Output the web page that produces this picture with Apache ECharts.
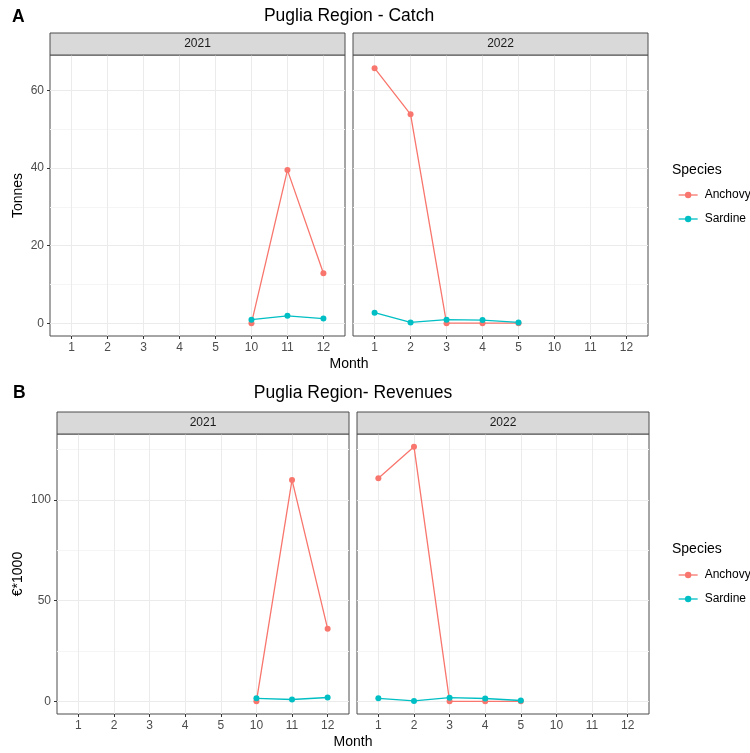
<!DOCTYPE html>
<html>
<head>
<meta charset="utf-8">
<script src="https://cdn.jsdelivr.net/npm/echarts@6/dist/echarts.min.js"></script>
<style>
  html, body { margin: 0; padding: 0; background: #fff; }
  #chart { width: 750px; height: 753px; }
</style>
</head>
<body>
<div id="chart"></div>
<script>
// month categories shared by every facet
var months = ['1', '2', '3', '4', '5', '10', '11', '12'];
var years = ['2021', '2022'];
var speciesNames = ['Anchovy', 'Sardine'];

// A - catch (tonnes)
var catchMonths2021 = ['10', '11', '12'];
var catchAnchovy2021 = [0, 39.5, 12.9];
var catchSardine2021 = [0.9, 1.9, 1.2];
var catchMonths2022 = ['1', '2', '3', '4', '5'];
var catchAnchovy2022 = [65.8, 53.9, 0, 0, 0];
var catchSardine2022 = [2.7, 0.2, 0.9, 0.8, 0.2];
var catchTicks = [0, 20, 40, 60];
var catchMinorTicks = [10, 30, 50];

// B - revenues (euro * 1000)
var revMonths2021 = ['10', '11', '12'];
var revAnchovy2021 = [0, 110, 36];
var revSardine2021 = [1.5, 0.9, 1.9];
var revMonths2022 = ['1', '2', '3', '4', '5'];
var revAnchovy2022 = [110.8, 126.5, 0, 0, 0];
var revSardine2022 = [1.5, 0.2, 1.8, 1.4, 0.4];
var revTicks = [0, 50, 100];
var revMinorTicks = [25, 75, 125];

var colors = { Anchovy: '#F8766D', Sardine: '#00BFC4' };
var font = 'Liberation Sans, Arial, sans-serif';
var monthIdx = months.map(function (m, i) { return i; });

// panel boxes: [left, top, width, height]
var panels = [
    { box: [50, 55, 295, 281], y: [-3.3, 69.2], ticks: catchTicks, minor: catchMinorTicks, name: 'Tonnes', gap: 25, year: 0 },
    { box: [353, 55, 295, 281], y: [-3.3, 69.2], ticks: catchTicks, minor: catchMinorTicks, year: 1 },
    { box: [57, 434, 292, 280], y: [-6.3, 132.8], ticks: revTicks, minor: revMinorTicks, name: '€*1000', gap: 32, year: 0 },
    { box: [357, 434, 292, 280], y: [-6.3, 132.8], ticks: revTicks, minor: revMinorTicks, year: 1 }
];

function toPairs(ms, vals) {
    return ms.map(function (m, i) { return [months.indexOf(m), vals[i]]; });
}

var grids = [], xAxes = [], yAxes = [], graphics = [];

panels.forEach(function (p, g) {
    grids.push({
        left: p.box[0], top: p.box[1], width: p.box[2], height: p.box[3],
        show: true, backgroundColor: '#fff', borderColor: '#4d4d4d', borderWidth: 1
    });
    xAxes.push({
        gridIndex: g, type: 'value', min: -0.6, max: 7.6,
        axisLine: { show: false, onZero: false },
        axisTick: { show: true, length: 3, customValues: monthIdx, lineStyle: { color: '#333' } },
        axisLabel: {
            customValues: monthIdx, margin: 6, color: '#4D4D4D', fontSize: 12, fontFamily: font,
            formatter: function (v) { return months[Math.round(v)]; }
        },
        splitLine: { show: true, lineStyle: { color: '#EBEBEB', width: 1 } }
    });
    // major lines, ticks and labels
    yAxes.push({
        gridIndex: g, type: 'value', min: p.y[0], max: p.y[1],
        axisLine: { show: false, onZero: false },
        axisTick: { show: g % 2 === 0, length: 3, customValues: p.ticks, lineStyle: { color: '#333' } },
        axisLabel: { show: g % 2 === 0, customValues: p.ticks, margin: 6, color: '#4D4D4D', fontSize: 12, fontFamily: font },
        splitLine: { show: true, lineStyle: { color: '#EBEBEB', width: 1 } },
        name: p.name || '', nameLocation: 'middle', nameRotate: 90, nameGap: p.gap || 0,
        nameTextStyle: { color: '#000', fontSize: 14, fontFamily: font }
    });
    // minor lines
    yAxes.push({
        gridIndex: g, type: 'value', min: p.y[0], max: p.y[1],
        axisLine: { show: false, onZero: false },
        axisTick: { show: false, customValues: p.minor },
        axisLabel: { show: false },
        splitLine: { show: true, lineStyle: { color: '#F5F5F5', width: 1 } }
    });
    // strip on top of the panel
    graphics.push({
        type: 'rect', z: 10,
        shape: { x: p.box[0], y: p.box[1] - 22, width: p.box[2], height: 22 },
        style: { fill: '#D9D9D9', stroke: '#4d4d4d', lineWidth: 1 }
    });
    graphics.push({
        type: 'text', z: 11, x: p.box[0] + p.box[2] / 2, y: p.box[1] - 11,
        style: { text: years[p.year], fill: '#1A1A1A', font: '12px ' + font, textAlign: 'center', textVerticalAlign: 'middle' }
    });
});

function addText(txt, x, y, size, weight, align) {
    graphics.push({
        type: 'text', x: x, y: y,
        style: { text: txt, fill: '#000', font: (weight || 'normal') + ' ' + size + 'px ' + font, textAlign: align || 'center', textVerticalAlign: 'middle' }
    });
}
addText('A', 12, 17, 17.5, 'bold', 'left');
addText('Puglia Region - Catch', 349, 16, 17.5);
addText('Month', 349, 364, 14);
addText('Species', 672, 170, 14, 'normal', 'left');
addText('B', 13, 393, 17.5, 'bold', 'left');
addText('Puglia Region- Revenues', 353, 393, 17.5);
addText('Month', 353, 742, 14);
addText('Species', 672, 549, 14, 'normal', 'left');

function line(name, ms, vals, g) {
    return {
        name: name, type: 'line',
        xAxisIndex: g, yAxisIndex: g * 2,
        data: toPairs(ms, vals),
        symbol: 'circle', symbolSize: 6,
        itemStyle: { color: colors[name] },
        lineStyle: { color: colors[name], width: 1.3 },
        emphasis: { disabled: true }
    };
}

var series = [
    line('Anchovy', catchMonths2021, catchAnchovy2021, 0),
    line('Sardine', catchMonths2021, catchSardine2021, 0),
    line('Anchovy', catchMonths2022, catchAnchovy2022, 1),
    line('Sardine', catchMonths2022, catchSardine2022, 1),
    line('Anchovy', revMonths2021, revAnchovy2021, 2),
    line('Sardine', revMonths2021, revSardine2021, 2),
    line('Anchovy', revMonths2022, revAnchovy2022, 3),
    line('Sardine', revMonths2022, revSardine2022, 3)
];

var legendBase = {
    orient: 'vertical', left: 673, itemWidth: 19, itemHeight: 8, itemGap: 12,
    data: speciesNames, selectedMode: false,
    lineStyle: { width: 1.3 },
    textStyle: { color: '#000', fontSize: 12, fontFamily: font, padding: [0, 0, 0, 2] }
};

var chart = echarts.init(document.getElementById('chart'));
chart.setOption({
    animation: false,
    textStyle: { fontFamily: font },
    grid: grids,
    xAxis: xAxes,
    yAxis: yAxes,
    legend: [
        Object.assign({}, legendBase, { top: 184 }),
        Object.assign({}, legendBase, { top: 564 })
    ],
    graphic: graphics,
    series: series
});
window.addEventListener('resize', function () { chart.resize(); });
</script>
</body>
</html>
